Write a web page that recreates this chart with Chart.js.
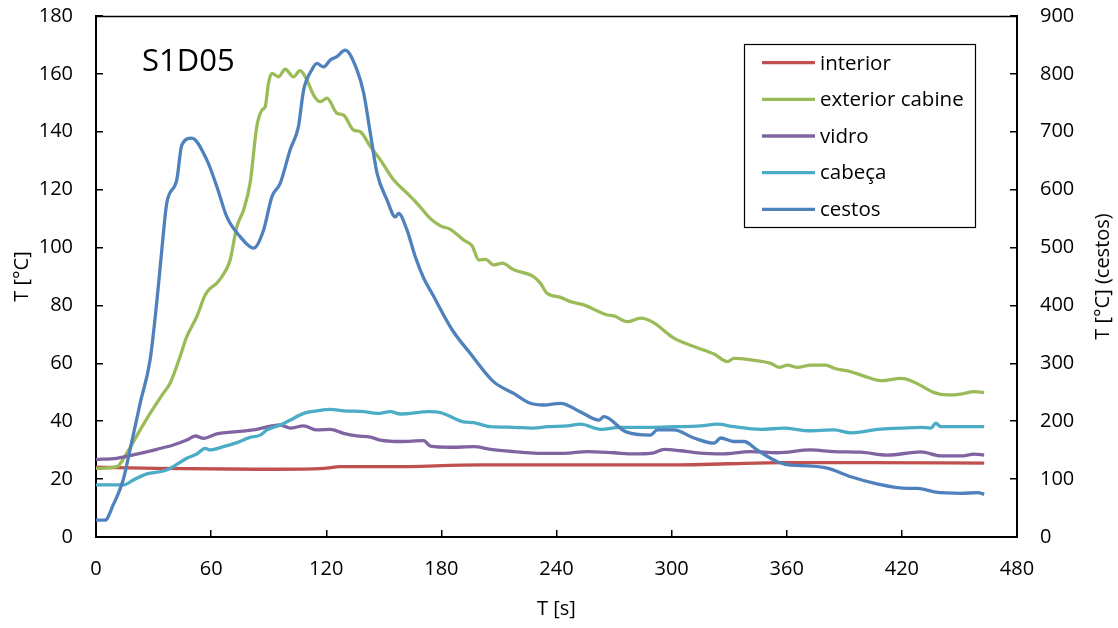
<!DOCTYPE html>
<html>
<head>
<meta charset="utf-8">
<script src="https://cdn.jsdelivr.net/npm/chart.js@4/dist/chart.umd.min.js"></script>
<style>
  html, body { margin: 0; padding: 0; background: #ffffff; }
  #wrap { width: 1118px; height: 628px; position: relative; }
</style>
</head>
<body>
<div id="wrap"><canvas id="c" width="1118" height="628"></canvas></div>
<script>
// ---- Data ----
const chartTitle = "S1D05";
const seriesNames = ["interior", "exterior cabine", "vidro", "cabeça", "cestos"];
const seriesColors = ["#C0504D", "#9BBB59", "#8064A2", "#4BACC6", "#4F81BD"];

const xTicks = [0, 60, 120, 180, 240, 300, 360, 420, 480];
const yLeftTicks = [0, 20, 40, 60, 80, 100, 120, 140, 160, 180];
const yRightTicks = [0, 100, 200, 300, 400, 500, 600, 700, 800, 900];

const tInterior = [0, 31.7, 83.8, 92.5, 118.6, 127.3, 153.4, 200.3, 252.5, 304.7, 329.1, 358.6, 402.1, 462.9];
const interior  = [24.1, 23.7, 23.4, 23.4, 23.7, 24.3, 24.3, 24.9, 24.9, 24.9, 25.3, 25.7, 25.7, 25.5];

const tExterior = [0, 10.8, 16.0, 23.0, 28.2, 35.1, 38.6, 43.8, 47.3, 52.5, 56.9, 59.5, 63.0, 67.3, 69.9, 73.4, 76.9, 80.3, 83.8, 86.5, 88.2, 89.9, 91.7, 95.1, 98.6, 102.9, 106.4, 109.9, 113.4, 116.9, 120.4, 125.6, 129.0, 134.2, 137.7, 143.0, 148.2, 155.1, 162.1, 167.3, 174.3, 179.5, 184.7, 191.6, 196.0, 199.5, 203.0, 207.3, 211.7, 217.7, 228.2, 231.6, 235.1, 242.1, 247.3, 254.2, 266.4, 269.9, 276.9, 283.8, 290.8, 297.7, 301.2, 311.6, 322.1, 329.1, 332.5, 341.2, 351.6, 356.0, 360.4, 365.6, 372.5, 380.3, 384.7, 393.4, 400.3, 409.0, 419.5, 424.7, 431.6, 436.8, 443.8, 450.8, 457.7, 462.9];
const exterior  = [23.7, 24.3, 28.9, 37.0, 42.7, 49.7, 53.1, 62.3, 69.2, 76.1, 83.6, 85.9, 87.7, 91.7, 95.7, 107.2, 113.0, 122.2, 141.8, 147.5, 148.7, 156.8, 160.2, 159.0, 161.6, 159.0, 161.1, 157.9, 152.7, 150.4, 151.6, 146.4, 145.8, 140.6, 140.0, 134.9, 130.3, 123.4, 118.8, 115.3, 110.0, 107.5, 106.3, 102.6, 100.6, 95.7, 95.9, 94.0, 94.6, 92.3, 89.9, 87.7, 84.2, 82.8, 81.3, 80.2, 76.7, 76.4, 74.4, 75.6, 74.0, 70.4, 68.7, 65.8, 63.2, 60.6, 61.7, 61.2, 60.0, 58.6, 59.4, 58.6, 59.4, 59.4, 58.3, 57.1, 55.6, 54.0, 54.8, 54.0, 51.7, 49.9, 49.1, 49.4, 50.2, 49.9];

const tVidro = [0, 10.8, 23.0, 31.7, 40.3, 47.3, 51.7, 56.0, 63.0, 73.4, 82.1, 96.0, 101.2, 108.2, 115.1, 122.1, 129.0, 136.0, 143.0, 148.2, 158.6, 170.8, 174.3, 184.7, 196.9, 205.6, 217.7, 229.9, 243.8, 256.0, 269.9, 280.3, 290.8, 296.0, 304.7, 313.4, 325.6, 341.2, 355.1, 372.5, 384.7, 398.6, 412.5, 429.9, 440.3, 450.8, 457.7, 462.9];
const vidro  = [26.8, 27.2, 28.9, 30.3, 31.8, 33.5, 34.9, 34.1, 35.6, 36.4, 37.0, 38.7, 37.6, 38.4, 37.0, 37.2, 35.8, 34.9, 34.5, 33.5, 33.0, 33.3, 31.4, 31.0, 31.2, 30.3, 29.5, 28.9, 28.9, 29.5, 29.1, 28.7, 29.1, 30.3, 29.8, 29.1, 28.7, 29.5, 29.1, 30.1, 29.5, 29.3, 28.3, 29.4, 28.0, 28.0, 28.6, 28.3];

const tCabeca = [0, 14.2, 19.5, 26.5, 35.1, 38.6, 47.3, 52.5, 56.9, 59.5, 66.4, 73.4, 80.3, 85.6, 89.1, 96.0, 101.2, 108.2, 115.1, 122.1, 129.0, 139.5, 146.5, 153.4, 158.6, 173.4, 179.5, 191.6, 196.9, 205.6, 217.7, 228.2, 235.1, 245.6, 252.5, 263.0, 273.4, 287.3, 301.2, 315.1, 323.8, 332.5, 346.4, 358.6, 370.8, 384.7, 393.4, 399.1, 407.3, 419.5, 429.9, 435.1, 437.7, 440.3, 454.2, 462.9];
const cabeca  = [18.0, 18.0, 19.7, 21.8, 22.8, 23.7, 27.2, 28.7, 30.6, 30.1, 31.2, 32.6, 34.4, 35.2, 37.0, 38.7, 40.4, 42.7, 43.6, 44.1, 43.6, 43.3, 42.7, 43.3, 42.5, 43.3, 43.0, 39.8, 39.5, 38.1, 37.9, 37.6, 38.1, 38.4, 39.0, 37.2, 37.9, 37.9, 38.1, 38.4, 39.0, 38.1, 37.2, 37.6, 36.7, 37.0, 36.0, 36.3, 37.2, 37.6, 37.9, 37.6, 39.3, 38.1, 38.1, 38.1];

const tCestos = [0, 4.7, 8.9, 14.1, 17.7, 23.0, 28.2, 31.8, 34.3, 36.9, 42.1, 44.7, 49.9, 57.8, 63.0, 68.2, 75.1, 82.1, 87.3, 91.7, 96.0, 101.2, 105.5, 108.2, 112.5, 115.1, 118.6, 122.1, 125.6, 129.9, 136.0, 139.5, 143.0, 146.5, 151.7, 156.0, 157.7, 162.1, 166.4, 170.8, 175.1, 185.6, 195.1, 207.3, 217.7, 226.4, 233.4, 242.1, 252.5, 262.1, 264.7, 276.0, 289.0, 292.5, 301.2, 311.6, 322.1, 325.6, 332.5, 337.7, 344.7, 355.1, 362.1, 370.8, 381.2, 393.4, 405.5, 423.0, 428.2, 436.8, 450.8, 459.5, 462.9];
const cestos  = [29, 29, 55, 98, 150, 231, 306, 410, 496, 577, 617, 677, 689, 651, 605, 553, 519, 499, 530, 588, 611, 669, 709, 772, 807, 818, 812, 824, 830, 841, 807, 767, 697, 628, 582, 553, 559, 530, 484, 447, 421, 358, 317, 268, 248, 231, 228, 231, 216, 202, 208, 182, 176, 185, 185, 171, 162, 171, 165, 165, 150, 130, 124, 123, 119, 104, 93, 84, 84, 78, 75.5, 76.5, 74];

// ---- Build chart ----
const FONT = "'Open Sans', 'Liberation Sans', sans-serif";
function pts(ts, vs) { return ts.map((t, i) => ({ x: t, y: vs[i] })); }
const allT = [tInterior, tExterior, tVidro, tCabeca, tCestos];
const allV = [interior, exterior, vidro, cabeca, cestos];

const datasets = seriesNames.map((name, i) => ({
  label: name,
  data: pts(allT[i], allV[i]),
  borderColor: seriesColors[i],
  backgroundColor: seriesColors[i],
  borderWidth: 3.3,
  pointRadius: 0,
  tension: 0.3,
  cubicInterpolationMode: 'monotone',
  yAxisID: i === 4 ? 'y2' : 'y',
  order: 4 - i
}));

const framePlugin = {
  id: 'frame',
  afterDraw(chart) {
    const { ctx, chartArea: a } = chart;
    ctx.save();
    ctx.strokeStyle = '#000';
    ctx.lineWidth = 1.5;
    ctx.beginPath();
    ctx.moveTo(a.left, a.top + 0.5);
    ctx.lineTo(a.right, a.top + 0.5);
    ctx.stroke();
    // chart title
    ctx.fillStyle = '#000';
    ctx.font = "31px " + FONT;
    ctx.textAlign = 'left';
    ctx.textBaseline = 'alphabetic';
    ctx.fillText(chartTitle, 142, 71);
    // right axis title (reads bottom to top)
    ctx.save();
    ctx.translate(1103, (a.top + a.bottom) / 2);
    ctx.rotate(-Math.PI / 2);
    ctx.font = "20px " + FONT;
    ctx.textAlign = 'center';
    ctx.textBaseline = 'middle';
    ctx.fillText("T [°C] (cestos)", 0, 0);
    ctx.restore();
    // legend box
    const lx = 744, ly = 44, lw = 231, lh = 183;
    ctx.fillStyle = '#fff';
    ctx.fillRect(lx, ly, lw, lh);
    ctx.strokeStyle = '#000';
    ctx.lineWidth = 1.2;
    ctx.strokeRect(lx + 0.5, ly + 0.5, lw, lh);
    ctx.font = "20.5px " + FONT;
    ctx.textAlign = 'left';
    ctx.textBaseline = 'middle';
    chart.data.datasets.forEach((ds, i) => {
      const y = 62.7 + i * 36.65;
      ctx.strokeStyle = ds.borderColor;
      ctx.lineWidth = 3.3;
      ctx.beginPath();
      ctx.moveTo(762, y);
      ctx.lineTo(815, y);
      ctx.stroke();
      ctx.fillStyle = '#000';
      ctx.fillText(ds.label, 820, y + 1);
    });
    ctx.restore();
  }
};

const tickFont = { family: FONT, size: 20 };
const commonGrid = { drawOnChartArea: false, drawTicks: true, tickLength: -7, color: '#000', lineWidth: 1.5 };
const commonBorder = { color: '#000', width: 2 };
function noPad(s) { s.paddingTop = 0; s.paddingBottom = 0; s.paddingLeft = 0; s.paddingRight = 0; }

new Chart(document.getElementById('c'), {
  type: 'line',
  data: { datasets },
  options: {
    responsive: false,
    animation: false,
    layout: { padding: { top: 16, left: 0, right: 0, bottom: 0 } },
    plugins: { legend: { display: false }, tooltip: { enabled: false } },
    scales: {
      x: {
        type: 'linear',
        min: 0, max: 480,
        afterBuildTicks: s => { s.ticks = xTicks.map(v => ({ value: v })); },
        ticks: { font: tickFont, color: '#000', padding: 27, maxRotation: 0 },
        grid: commonGrid,
        border: commonBorder,
        title: { display: true, text: 'T [s]', font: { family: FONT, size: 20 }, color: '#000', padding: { top: 0, bottom: 7 } },
        afterFit: s => { s.height = 91; noPad(s); }
      },
      y: {
        type: 'linear', position: 'left',
        min: 0, max: 180,
        afterBuildTicks: s => { s.ticks = yLeftTicks.map(v => ({ value: v })); },
        ticks: { font: tickFont, color: '#000', padding: 30 },
        grid: commonGrid,
        border: commonBorder,
        title: { display: true, text: 'T [°C]', font: { family: FONT, size: 20 }, color: '#000', padding: { top: 10, bottom: 0 } },
        afterFit: s => { s.width = 96; noPad(s); }
      },
      y2: {
        type: 'linear', position: 'right',
        min: 0, max: 900,
        afterBuildTicks: s => { s.ticks = yRightTicks.map(v => ({ value: v })); },
        ticks: { font: tickFont, color: '#000', padding: 30 },
        grid: commonGrid,
        border: commonBorder,
        afterFit: s => { s.width = 101; noPad(s); }
      }
    }
  },
  plugins: [framePlugin]
});
</script>
</body>
</html>
